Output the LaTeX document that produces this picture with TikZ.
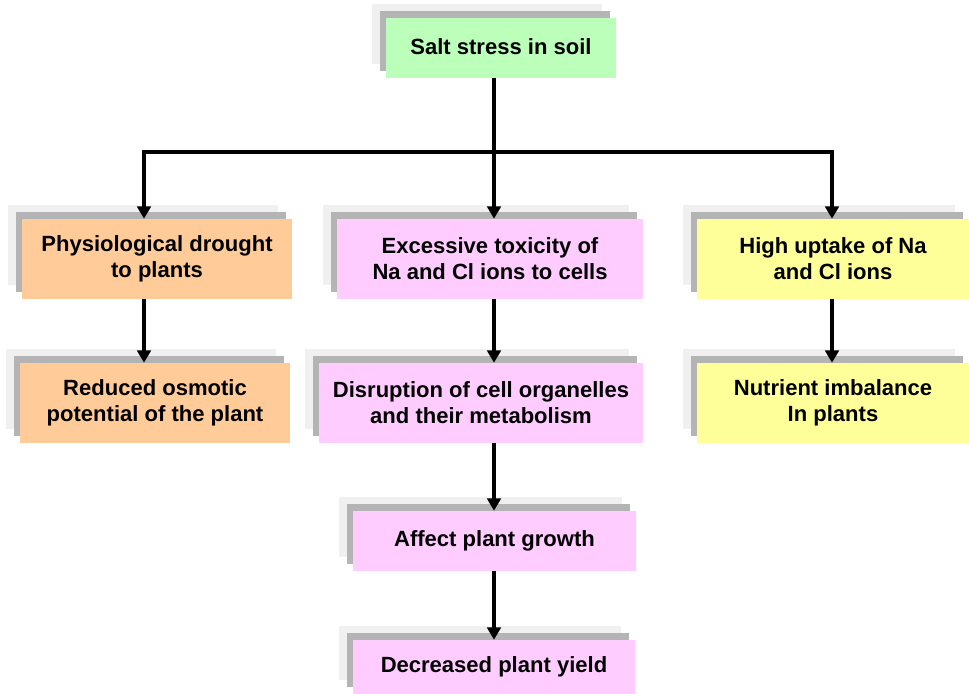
\documentclass[tikz,border=0pt]{standalone}
\usepackage{fontspec}
\setmainfont{Liberation Sans}
\usetikzlibrary{arrows.meta,shadows}
\definecolor{cgreen}{HTML}{BBFFBB}
\definecolor{corange}{HTML}{FFCC99}
\definecolor{cpink}{HTML}{FFCCFF}
\definecolor{cyellow}{HTML}{FFFF99}
\definecolor{cshadow}{HTML}{B4B4B4}
\definecolor{clight}{HTML}{F0F0F0}
\begin{document}
\begin{tikzpicture}[x=0.03cm,y=-0.03cm,
  boxnode/.style={draw=none, inner sep=0pt, align=center,
    font=\fontsize{18.8}{22.2}\selectfont\bfseries,
    general shadow={fill=clight, shadow xshift=-0.42cm, shadow yshift=0.42cm},
    general shadow={fill=cshadow, shadow xshift=-0.18cm, shadow yshift=0.21cm}},
  conn/.style={line width=3pt, line join=miter},
  tip/.style={-{Triangle[width=11.5pt,length=10.5pt]}},
  tips/.style={{Triangle[width=11.5pt,length=10.5pt]}-{Triangle[width=11.5pt,length=10.5pt]}}]
\useasboundingbox (0,0) rectangle (969,694);
\begin{scope}
\clip (0,0) rectangle (969,694);
\node[boxnode, fill=cgreen, minimum width=6.9cm, minimum height=1.8cm] (salt) at (501,48) {\raisebox{2pt}{Salt stress in soil}};
\node[boxnode, fill=corange, minimum width=8.1cm, minimum height=2.4cm] (phys) at (157,259) {Physiological drought\\to plants};
\node[boxnode, fill=cpink, minimum width=9.18cm, minimum height=2.4cm] (exc) at (490,259) {Excessive toxicity of\\Na and Cl ions to cells};
\node[boxnode, fill=cyellow, minimum width=8.16cm, minimum height=2.4cm] (high) at (833,259) {High uptake of Na\\and Cl ions};
\node[boxnode, fill=corange, minimum width=8.1cm, minimum height=2.4cm] (red) at (155,403) {Reduced osmotic\\potential of the plant};
\node[boxnode, fill=cpink, minimum width=9.72cm, minimum height=2.4cm] (disr) at (481,403) {Disruption of cell organelles\\and their metabolism};
\node[boxnode, fill=cyellow, minimum width=8.16cm, minimum height=2.4cm] (nutr) at (833,403) {Nutrient imbalance\\In plants};
\node[boxnode, fill=cpink, minimum width=8.49cm, minimum height=1.8cm] (aff) at (494.5,541) {\raisebox{1.5pt}{Affect plant growth}};
\node[boxnode, fill=cpink, minimum width=8.46cm, minimum height=1.62cm] (decr) at (494,667) {Decreased plant yield};
\end{scope}
\coordinate (j) at (494,152);
\coordinate (jl) at (144,152);
\coordinate (jr) at (832,152);
\draw[conn] (salt.south -| j) -- (j);
\draw[conn, tips] (phys.north -| jl) -- (jl) -- (jr) -- (high.north -| jr);
\draw[conn, tip] (j) -- (exc.north -| j);
\draw[conn, tip] (phys.south -| jl) -- (red.north -| jl);
\draw[conn, tip] (exc.south -| j) -- (disr.north -| j);
\draw[conn, tip] (high.south -| jr) -- (nutr.north -| jr);
\draw[conn, tip] (disr.south -| j) -- (aff.north -| j);
\draw[conn, tip] (aff.south -| j) -- (decr.north -| j);
\end{tikzpicture}
\end{document}
